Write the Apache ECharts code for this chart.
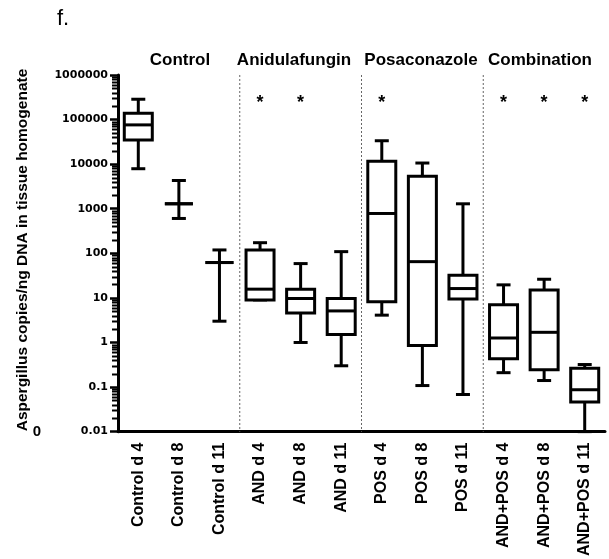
<!DOCTYPE html>
<html>
<head>
<meta charset="utf-8">
<script src="https://cdn.jsdelivr.net/npm/echarts@6/dist/echarts.min.js"></script>
<style>
  html, body { margin: 0; padding: 0; background: #fff; }
  #chart { width: 609px; height: 559px; }
</style>
</head>
<body>
<div id="chart"></div>
<script>
// ---- data ----
const categories = ['Control d 4', 'Control d 8', 'Control d 11', 'AND d 4', 'AND d 8', 'AND d 11',
                    'POS d 4', 'POS d 8', 'POS d 11', 'AND+POS d 4', 'AND+POS d 8', 'AND+POS d 11'];
const whiskerLow  = [7900,   605,  3.0,  9.0, 1.0,  0.30, 4.1,   0.108, 0.068, 0.21, 0.14,  0.01];
const quartile1   = [35000,  1290, 62,   9.0, 4.56, 1.5,  8.2,   0.85,  9.4,   0.43, 0.243, 0.046];
const medians     = [76000,  1290, 62,   15.7, 9.7, 5.1,  783,   65,    16.2,  1.26, 1.69,  0.087];
const quartile3   = [139000, 1290, 62,   119, 15.7, 9.7,  11550, 5350,  32.2,  7.0,  15.1,  0.265];
const whiskerHigh = [286000, 4300, 119,  173, 58.8, 109,  33500, 10600, 1290,  19.6, 26.2,  0.32];
const significant = ['AND d 4', 'AND d 8', 'POS d 4', 'AND+POS d 4', 'AND+POS d 8', 'AND+POS d 11'];
const sigLevel = 3e5;
const groupTitles = ['Control', 'Anidulafungin', 'Posaconazole', 'Combination'];
const groupLastCategory = ['Control d 11', 'AND d 11', 'POS d 11'];
const yTickLabels = ['0.01', '0.1', '1', '10', '100', '1000', '10000', '100000', '1000000'];
const yMin = 0.01, yMax = 1000000;
const yTitle = 'Aspergillus copies/ng DNA in tissue homogenate';

// minor log ticks (axis decoration: 2..9 within each decade)
const minorTicks = [];
for (let d = -2; d < 6; d++) {
  for (let k = 2; k <= 9; k++) minorTicks.push([0, k * Math.pow(10, d)]);
}

const boxData = categories.map((c, i) =>
  [i, whiskerLow[i], quartile1[i], medians[i], quartile3[i], whiskerHigh[i]]);
const sigData = significant.map(c => [categories.indexOf(c), sigLevel]);
const sepData = groupLastCategory.map(c => [categories.indexOf(c), yMin]);

const LW = 3;
const AR = 'Liberation Sans, Arial, sans-serif';

function renderBox(params, api) {
  const i = api.value(0);
  const band = api.size([1, 0])[0];
  const cx = api.coord([i, 1])[0];
  const bw = band * 0.69;
  const cw = bw * 0.5;
  const y = k => api.coord([i, api.value(k)])[1];
  const yLo = y(1), yQ1 = y(2), yMed = y(3), yQ3 = y(4), yHi = y(5);
  const st = { stroke: '#000', lineWidth: LW, fill: null };
  const line = (x1, y1, x2, y2) => ({ type: 'line', shape: { x1, y1, x2, y2 }, style: st });
  return {
    type: 'group',
    children: [
      line(cx, yHi, cx, yQ3),
      line(cx, yQ1, cx, yLo),
      line(cx - cw / 2, yHi, cx + cw / 2, yHi),
      line(cx - cw / 2, yLo, cx + cw / 2, yLo),
      { type: 'rect', shape: { x: cx - bw / 2, y: yQ3, width: bw, height: yQ1 - yQ3 },
        style: { stroke: '#000', lineWidth: LW, fill: '#fff' } },
      line(cx - bw / 2, yMed, cx + bw / 2, yMed)
    ]
  };
}

function renderSig(params, api) {
  const p = api.coord([api.value(0), api.value(1)]);
  return { type: 'text', x: p[0], y: p[1] + 5,
    style: { text: '*', font: 'bold 18px ' + AR, fill: '#000', align: 'center', verticalAlign: 'middle' } };
}

function renderSep(params, api) {
  const i = api.value(0);
  const band = api.size([1, 0])[0];
  const x = api.coord([i, 1])[0] + band / 2;
  const yb = api.coord([i, yMin])[1];
  const yt = api.coord([i, yMax])[1];
  return { type: 'line', shape: { x1: x, y1: yt, x2: x, y2: yb },
    style: { stroke: '#666', lineWidth: 1, lineDash: [2, 2] } };
}

function renderMinor(params, api) {
  const band = api.size([1, 0])[0];
  const p = api.coord([0, api.value(1)]);
  const x0 = p[0] - band / 2;
  return { type: 'line', shape: { x1: x0 - 6, y1: Math.round(p[1]) + 0.5, x2: x0, y2: Math.round(p[1]) + 0.5 },
    style: { stroke: '#000', lineWidth: 2 } };
}

const chart = echarts.init(document.getElementById('chart'), null, { renderer: 'canvas' });
const titlePos = [[180, 60], [294, 60], [421, 60], [540, 60]];
chart.setOption({
  animation: false,
  backgroundColor: '#fff',
  grid: { left: 118, right: 4, top: 75, bottom: 126, containLabel: false },
  xAxis: {
    type: 'category',
    data: categories,
    axisLine: { lineStyle: { color: '#000', width: LW } },
    axisTick: { alignWithLabel: true, length: 7, lineStyle: { color: '#000', width: LW } },
    axisLabel: { rotate: 90, interval: 0, margin: 11, color: '#000', fontWeight: 'bold',
                 fontSize: 16, fontFamily: AR },
    splitLine: { show: false }
  },
  yAxis: {
    type: 'log', logBase: 10, min: yMin, max: yMax, splitNumber: 8,
    axisLine: { show: true, lineStyle: { color: '#000', width: LW } },
    axisTick: { show: true, length: 8, lineStyle: { color: '#000', width: 2.5 } },
    axisLabel: { color: '#000', fontWeight: 'bold', fontSize: 11, fontFamily: 'DejaVu Sans',
                 margin: 10,
                 formatter: v => yTickLabels[Math.round(Math.log10(v)) + 2] },
    splitLine: { show: false }
  },
  series: [
    { type: 'custom', data: minorTicks, renderItem: renderMinor, silent: true, z: 5, clip: false },
    { type: 'custom', data: sepData, renderItem: renderSep, silent: true, z: 1 },
    { type: 'custom', data: boxData, renderItem: renderBox, encode: { x: 0, y: [1, 2, 3, 4, 5] }, z: 3 },
    { type: 'custom', data: sigData, renderItem: renderSig, z: 3 }
  ],
  graphic: [
    { type: 'text', left: 57, top: 8, style: { text: 'f.', font: '22px ' + AR, fill: '#000' } },
    { type: 'text', x: 23, y: 250, rotation: Math.PI / 2,
      style: { text: yTitle, font: 'bold 15.5px ' + AR, fill: '#000', align: 'center', verticalAlign: 'middle' } },
    { type: 'text', x: 37, y: 432,
      style: { text: '0', font: 'bold 15px ' + AR, fill: '#000', align: 'center', verticalAlign: 'middle' } }
  ].concat(groupTitles.map((t, k) => ({
    type: 'text', x: titlePos[k][0], y: titlePos[k][1],
    style: { text: t, font: 'bold 17px ' + AR, fill: '#000', align: 'center', verticalAlign: 'middle' }
  })))
});
</script>
</body>
</html>
